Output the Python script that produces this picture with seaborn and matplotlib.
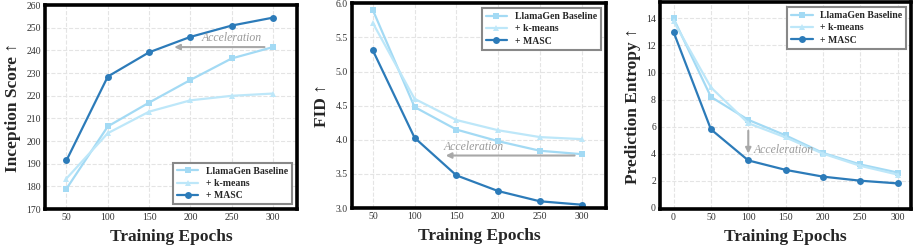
import matplotlib
matplotlib.use("Agg")
import matplotlib.pyplot as plt
import seaborn as sns
import pandas as pd

# data
epochs = [50, 100, 150, 200, 250, 300]
epochs_ent = [0, 50, 100, 150, 200, 250, 300]

is_base = [179, 206.5, 217, 227, 236.5, 241.5]
is_kmeans = [183.5, 203.5, 213, 218, 220, 221]
is_masc = [191.5, 228.5, 239.2, 246, 251, 254.5]

fid_base = [5.90, 4.48, 4.15, 3.98, 3.84, 3.79]
fid_kmeans = [5.71, 4.60, 4.29, 4.14, 4.04, 4.01]
fid_masc = [5.31, 4.03, 3.48, 3.25, 3.10, 3.05]

ent_base = [14.0, 8.2, 6.5, 5.35, 4.05, 3.2, 2.6]
ent_kmeans = [13.8, 8.9, 6.25, 5.2, 4.0, 3.1, 2.45]
ent_masc = [13.0, 5.8, 3.5, 2.8, 2.3, 2.0, 1.8]

names = ["LlamaGen Baseline", "+ k-means", "+ MASC"]
colors = ["#a3daf4", "#bde7f9", "#2c7bb9"]
markers = ["s", "^", "o"]

sns.set_style("whitegrid", {"grid.linestyle": "--", "grid.color": "#e4e4e4"})
plt.rcParams["font.family"] = ["Liberation Serif", "DejaVu Serif"]

fig = plt.figure(figsize=(9.13, 2.46), dpi=100)
ax1 = fig.add_axes([0.0493, 0.150, 0.276, 0.829])
ax2 = fig.add_axes([0.3855, 0.154, 0.278, 0.833])
ax3 = fig.add_axes([0.723, 0.150, 0.275, 0.841])


def draw(ax, x, series, ylabel, legend_loc):
    for vals, name, c, m in zip(series, names, colors, markers):
        df = pd.DataFrame({"epoch": x, "val": vals})
        sns.lineplot(data=df, x="epoch", y="val", ax=ax, color=c, marker=m,
                     markersize=5, linewidth=1.6, markeredgewidth=0, label=name)
    ax.set_xlabel("Training Epochs", fontsize=12.5, fontweight="bold", labelpad=5)
    ax.set_ylabel(ylabel, fontsize=12.5, fontweight="bold", labelpad=4)
    ax.tick_params(labelsize=7, colors="#333333", length=0, pad=3)
    ax.set_xticks(x)
    for s in ax.spines.values():
        s.set_color("black")
        s.set_linewidth(2.6)
    leg = ax.legend(loc=legend_loc, prop={"weight": "bold", "size": 7},
                    fancybox=False, framealpha=1, borderpad=0.4,
                    handlelength=2.2, labelspacing=0.35)
    leg.get_frame().set_edgecolor("#888888")
    leg.get_frame().set_linewidth(1.5)


arrow = dict(arrowstyle="-|>", color="#a8a8a8", lw=1.5, mutation_scale=8)
txt = dict(color="#999999", style="italic", fontsize=8.5)

draw(ax1, epochs, [is_base, is_kmeans, is_masc], "Inception Score ↑", "lower right")
ax1.set_xlim(24, 329)
ax1.set_ylim(170, 260)
ax1.set_yticks(range(170, 261, 10))
ax1.annotate("", xy=(177, 241.5), xytext=(293, 241.5), arrowprops=arrow)
ax1.text(250, 245.5, "Acceleration", ha="center", va="center", **txt)

draw(ax2, epochs, [fid_base, fid_kmeans, fid_masc], "FID ↑", "upper right")
ax2.set_xlim(25, 329)
ax2.set_ylim(3.0, 6.0)
ax2.set_yticks([3.0, 3.5, 4.0, 4.5, 5.0, 5.5, 6.0])
ax2.annotate("", xy=(134, 3.77), xytext=(295, 3.77), arrowprops=arrow)
ax2.text(135, 3.90, "Acceleration", ha="left", va="center", **txt)

draw(ax3, epochs_ent, [ent_base, ent_kmeans, ent_masc], "Prediction Entropy ↑", "upper right")
ax3.set_xlim(-18, 318)
ax3.set_ylim(-0.1, 15.2)
ax3.set_yticks(range(0, 15, 2))
ax3.annotate("", xy=(100, 3.8), xytext=(100, 5.9), arrowprops=arrow)
ax3.text(107, 4.27, "Acceleration", ha="left", va="center", **txt)

fig.savefig("out.png", dpi=100)
